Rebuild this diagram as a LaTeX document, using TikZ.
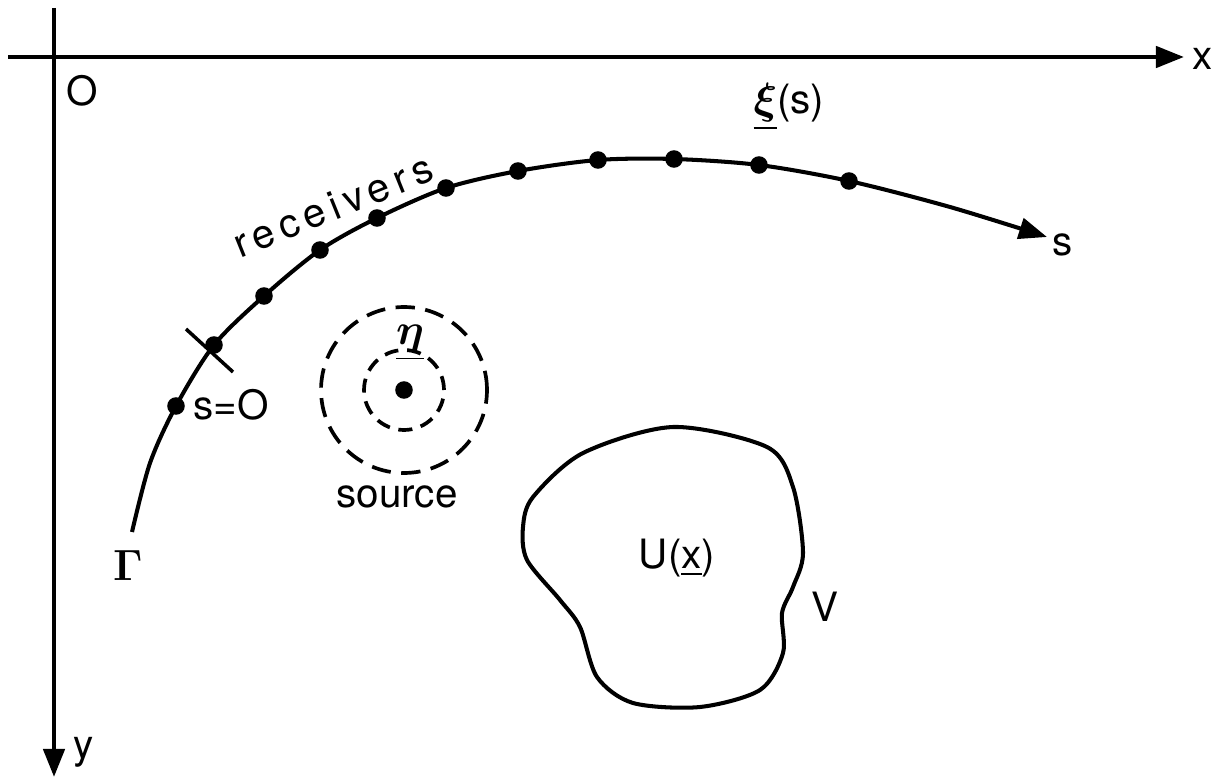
\documentclass[tikz,border=0pt]{standalone}
\usepackage{amsmath}
\usepackage{amssymb}
\usepackage{fontspec}
\setmainfont{TeX Gyre Heros}
\newfontfamily\spacedfont[LetterSpace=15]{TeX Gyre Heros}
\usetikzlibrary{arrows.meta}

\begin{document}
\begin{tikzpicture}[x=0.02cm, y=-0.02cm,
  axis/.style={line width=2.6pt, -{Triangle[length=16pt,width=12pt]}},
  lbl/.style={font=\fontsize{23}{25}\selectfont, inner sep=0pt},
  rcv/.style={shape=circle, fill=black, inner sep=0pt, minimum size=10pt},
  wave/.style={line width=2.1pt, dash pattern=on 11pt off 6pt}]

\useasboundingbox (0,0) rectangle (1226,780);

% axes
\coordinate (xstart) at (8,57);
\coordinate (xend) at (1184,57);
\coordinate (ystart) at (54,8);
\coordinate (yend) at (54,777);
\draw[axis] (xstart) -- (xend);
\draw[axis] (ystart) -- (yend);

\node[lbl](xlab) at (1203,59) {x};
\node[lbl](ylab) at (84,752) {y};
\node[lbl](orig) at (82,91) {O};

% receiver line Gamma
\draw[line width=2.3pt, -{Triangle[length=16pt,width=12pt]}]
  plot[smooth] coordinates {(132,532) (150,463) (176,406) (214,345) (264,296)
  (320,250) (377,218) (446,188) (518,171) (598,160) (674,159) (759,165)
  (849,181) (950,207) (1047,237)};

\node[rcv](r1) at (176,406) {};
\node[rcv](r2) at (214,345) {};
\node[rcv](r3) at (264,296) {};
\node[rcv](r4) at (320,250) {};
\node[rcv](r5) at (377,218) {};
\node[rcv](r6) at (446,188) {};
\node[rcv](r7) at (518,171) {};
\node[rcv](r8) at (598,160) {};
\node[rcv](r9) at (674,159) {};
\node[rcv](r10) at (759,165) {};
\node[rcv](r11) at (849,181) {};

% s=0 mark
\coordinate (tick1) at (186,329);
\coordinate (tick2) at (233,372);
\draw[line width=2pt] (tick1) -- (tick2);

\node[lbl](szero) at (231,405) {s=O};
\node[lbl, rotate=22](rec) at (333,206) {\spacedfont receivers};
\node[lbl](xi) at (789,107) {$\underline{\boldsymbol{\xi}}$(s)};
\node[lbl](slab) at (1063,245) {s};
\node[font=\fontsize{30}{32}\selectfont, inner sep=0pt](gam) at (128,565) {$\boldsymbol{\Gamma}$};

% source
\node[rcv](src) at (404,390) {};
\draw[wave, dash pattern=on 8pt off 5pt] (src) circle[radius=0.8cm];
\draw[wave] (src) circle[radius=1.66cm];
\node[lbl](eta) at (410,343) {$\underline{\boldsymbol{\eta}}$};
\node[lbl](srclab) at (397,497) {source};

% region V
\draw[line width=2.3pt] plot[smooth cycle] coordinates {(523,527) (533,497) (583,453)
  (673,427) (767,447) (793,487) (803,553) (793,587) (782,613) (783,653)
  (760,690) (700,707) (633,703) (597,677) (580,627) (560,600) (527,560)};

\node[lbl](ux) at (677,558) {U($\underline{\text{x}}$)};
\node[lbl](vlab) at (825,607) {V};
\end{tikzpicture}
\end{document}
